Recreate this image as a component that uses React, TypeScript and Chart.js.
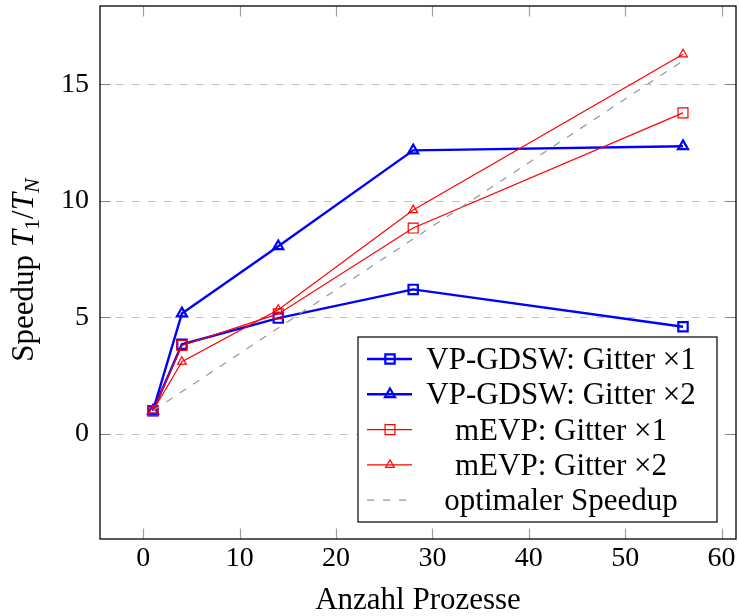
import React, { useEffect, useRef } from 'react';
import { Chart, registerables } from 'chart.js';

Chart.register(...registerables);

const processes = [1, 4, 14, 28, 56];
const vpGdsw1 = [1, 3.85, 4.97, 6.2, 4.6];
const vpGdsw2 = [1, 5.17, 8.05, 12.16, 12.34];
const mevp1 = [1, 3.8, 5.15, 8.83, 13.77];
const mevp2 = [1, 3.1, 5.33, 9.6, 16.28];
const optimalX = [1, 56];
const optimalY = [1, 16];
const xTicks = [0, 10, 20, 30, 40, 50, 60];
const yTicks = [0, 5, 10, 15];
const seriesLabels = [
  'VP-GDSW: Gitter \u00d71',
  'VP-GDSW: Gitter \u00d72',
  'mEVP: Gitter \u00d71',
  'mEVP: Gitter \u00d72',
  'optimaler Speedup',
];
const xTitle = 'Anzahl Prozesse';

const FONT = '"Liberation Serif", "Times New Roman", serif';
const BLUE = 'rgb(0,0,255)';
const RED = 'rgb(255,0,0)';
const GRAY = 'rgb(150,150,150)';
const DASH = [7.5, 8.5];
const TEXT_SIZE = 31;

function drawMarker(ctx: CanvasRenderingContext2D, style: string, x: number, y: number, r: number, color: string, lw: number) {
  ctx.save();
  ctx.strokeStyle = color;
  ctx.lineWidth = lw;
  ctx.setLineDash([]);
  ctx.beginPath();
  if (style === 'rect') {
    const s = Math.SQRT1_2 * r;
    ctx.rect(x - s, y - s, 2 * s, 2 * s);
  } else if (style === 'triangle') {
    let rad = 0;
    ctx.moveTo(x + Math.sin(rad) * r, y - Math.cos(rad) * r);
    rad += (2 * Math.PI) / 3;
    ctx.lineTo(x + Math.sin(rad) * r, y - Math.cos(rad) * r);
    rad += (2 * Math.PI) / 3;
    ctx.lineTo(x + Math.sin(rad) * r, y - Math.cos(rad) * r);
    ctx.closePath();
  }
  ctx.stroke();
  ctx.restore();
}

const pgfPlugin = {
  id: 'pgfPlugin',
  beforeDatasetsDraw(chart: any) {
    const { ctx, chartArea: a, scales } = chart;
    const y = scales.y;
    ctx.save();
    ctx.strokeStyle = 'rgb(190,190,190)';
    ctx.lineWidth = 1.2;
    ctx.setLineDash(DASH);
    for (const v of yTicks) {
      const py = Math.round(y.getPixelForValue(v)) + 0.5;
      ctx.beginPath();
      ctx.moveTo(a.left, py);
      ctx.lineTo(a.right, py);
      ctx.stroke();
    }
    ctx.restore();
  },
  afterDraw(chart: any) {
    const { ctx, chartArea: a, scales } = chart;
    const x = scales.x;
    const y = scales.y;
    ctx.save();
    // inner ticks
    ctx.strokeStyle = 'rgb(160,160,160)';
    ctx.lineWidth = 1.2;
    ctx.setLineDash([]);
    const tl = 10.5;
    for (const v of xTicks) {
      const px = Math.round(x.getPixelForValue(v)) + 0.5;
      ctx.beginPath();
      ctx.moveTo(px, a.bottom);
      ctx.lineTo(px, a.bottom - tl);
      ctx.moveTo(px, a.top);
      ctx.lineTo(px, a.top + tl);
      ctx.stroke();
    }
    ctx.strokeStyle = 'rgb(130,130,130)';
    for (const v of yTicks) {
      const py = Math.round(y.getPixelForValue(v)) + 0.5;
      ctx.beginPath();
      ctx.moveTo(a.left, py);
      ctx.lineTo(a.left + tl, py);
      ctx.moveTo(a.right, py);
      ctx.lineTo(a.right - tl, py);
      ctx.stroke();
    }
    // frame
    ctx.strokeStyle = '#000';
    ctx.lineWidth = 1.3;
    ctx.strokeRect(a.left, a.top, a.right - a.left, a.bottom - a.top);

    // legend
    const lw = 359;
    const lh = 185;
    const lx = a.right - 19 - lw;
    const ly = a.bottom - 17 - lh;
    ctx.fillStyle = '#fff';
    ctx.fillRect(lx, ly, lw, lh);
    ctx.strokeStyle = '#000';
    ctx.lineWidth = 1.2;
    ctx.strokeRect(lx, ly, lw, lh);
    const ds = chart.data.datasets;
    ctx.font = `${TEXT_SIZE}px ${FONT}`;
    ctx.textAlign = 'center';
    ctx.textBaseline = 'alphabetic';
    for (let i = 0; i < ds.length; i++) {
      const d = ds[i];
      const cy = ly + 22 + i * 35.3;
      ctx.save();
      ctx.strokeStyle = d.borderColor;
      ctx.lineWidth = d.borderWidth;
      ctx.setLineDash(d.borderDash || []);
      ctx.beginPath();
      ctx.moveTo(lx + 9, cy);
      ctx.lineTo(lx + 54, cy);
      ctx.stroke();
      ctx.restore();
      if (d.pointStyle && d.pointRadius > 0) {
        drawMarker(ctx, d.pointStyle, lx + 32, cy, d.pointRadius, d.pointBorderColor, d.pointBorderWidth);
      }
      ctx.fillStyle = '#000';
      ctx.fillText(d.label, lx + 203, cy + 10);
    }

    // x title
    ctx.font = `${TEXT_SIZE}px ${FONT}`;
    ctx.textAlign = 'center';
    ctx.textBaseline = 'alphabetic';
    ctx.fillStyle = '#000';
    ctx.fillText(xTitle, (a.left + a.right) / 2, 609);

    // y title: Speedup T_1/T_N
    ctx.save();
    ctx.translate(0, 270);
    ctx.rotate(-Math.PI / 2);
    const pieces = [
      { t: 'Speedup ', f: `${TEXT_SIZE}px ${FONT}`, dy: 0 },
      { t: 'T', f: `italic ${TEXT_SIZE}px ${FONT}`, dy: 0 },
      { t: '1', f: `22px ${FONT}`, dy: 6 },
      { t: '/', f: `${TEXT_SIZE}px ${FONT}`, dy: 0 },
      { t: 'T', f: `italic ${TEXT_SIZE}px ${FONT}`, dy: 0 },
      { t: 'N', f: `italic 22px ${FONT}`, dy: 6 },
    ];
    let total = 0;
    const widths: number[] = [];
    for (const p of pieces) {
      ctx.font = p.f;
      const w = ctx.measureText(p.t).width;
      widths.push(w);
      total += w;
    }
    let cx = -total / 2;
    ctx.textAlign = 'left';
    const base = 33;
    pieces.forEach((p, i) => {
      ctx.font = p.f;
      ctx.fillText(p.t, cx, base + p.dy);
      cx += widths[i];
    });
    ctx.restore();

    ctx.restore();
  },
};

export default function App() {
  const canvasRef = useRef<HTMLCanvasElement>(null);

  useEffect(() => {
    const canvas = canvasRef.current;
    if (!canvas) return;
    const toPts = (xs: number[], ys: number[]) => xs.map((v, i) => ({ x: v, y: ys[i] }));
    const chart = new Chart(canvas, {
      type: 'line',
      data: {
        datasets: [
          {
            label: seriesLabels[0],
            data: toPts(processes, vpGdsw1),
            borderColor: BLUE,
            borderWidth: 2.4,
            pointStyle: 'rect',
            pointRadius: 6.6,
            pointBorderColor: BLUE,
            pointBackgroundColor: 'rgba(0,0,0,0)',
            pointBorderWidth: 2.2,
            order: 5,
          },
          {
            label: seriesLabels[1],
            data: toPts(processes, vpGdsw2),
            borderColor: BLUE,
            borderWidth: 2.4,
            pointStyle: 'triangle',
            pointRadius: 5.8,
            pointBorderColor: BLUE,
            pointBackgroundColor: 'rgba(0,0,0,0)',
            pointBorderWidth: 2.2,
            order: 4,
          },
          {
            label: seriesLabels[2],
            data: toPts(processes, mevp1),
            borderColor: RED,
            borderWidth: 1.2,
            pointStyle: 'rect',
            pointRadius: 7,
            pointBorderColor: RED,
            pointBackgroundColor: 'rgba(0,0,0,0)',
            pointBorderWidth: 1.2,
            order: 3,
          },
          {
            label: seriesLabels[3],
            data: toPts(processes, mevp2),
            borderColor: RED,
            borderWidth: 1.2,
            pointStyle: 'triangle',
            pointRadius: 5,
            pointBorderColor: RED,
            pointBackgroundColor: 'rgba(0,0,0,0)',
            pointBorderWidth: 1.2,
            order: 2,
          },
          {
            label: seriesLabels[4],
            data: toPts(optimalX, optimalY),
            borderColor: GRAY,
            borderWidth: 1.2,
            borderDash: DASH,
            pointRadius: 0,
            pointStyle: false as any,
            order: 1,
          },
        ],
      },
      options: {
        animation: false,
        responsive: false,
        maintainAspectRatio: false,
        layout: { autoPadding: false, padding: { left: 0, top: 6, right: 3, bottom: 0 } },
        plugins: { legend: { display: false }, tooltip: { enabled: false } },
        elements: { line: { tension: 0 } },
        scales: {
          x: {
            type: 'linear',
            min: -4.5,
            max: 61.5,
            grid: { display: false, drawTicks: false },
            border: { display: false },
            afterFit: (s: any) => { s.height = 77; s.paddingLeft = 0; s.paddingRight = 0; },
            afterBuildTicks: (s: any) => { s.ticks = xTicks.map((v) => ({ value: v })); },
            ticks: { font: { family: FONT, size: 28 }, color: '#000', padding: 3, maxRotation: 0, autoSkip: false },
          },
          y: {
            type: 'linear',
            min: -4.5,
            max: 18.35,
            grid: { display: false, drawTicks: false },
            border: { display: false },
            afterFit: (s: any) => { s.width = 100; s.paddingTop = 0; s.paddingBottom = 0; },
            afterBuildTicks: (s: any) => { s.ticks = yTicks.map((v) => ({ value: v })); },
            ticks: { font: { family: FONT, size: 28 }, color: '#000', padding: 11, autoSkip: false },
          },
        },
      },
      plugins: [pgfPlugin],
    } as any);
    return () => chart.destroy();
  }, []);

  return (
    <div style={{ position: 'absolute', left: 0, top: 0, width: 739, height: 616, background: '#fff' }}>
      <canvas ref={canvasRef} width={739} height={616} style={{ width: 739, height: 616, display: 'block' }} />
    </div>
  );
}
